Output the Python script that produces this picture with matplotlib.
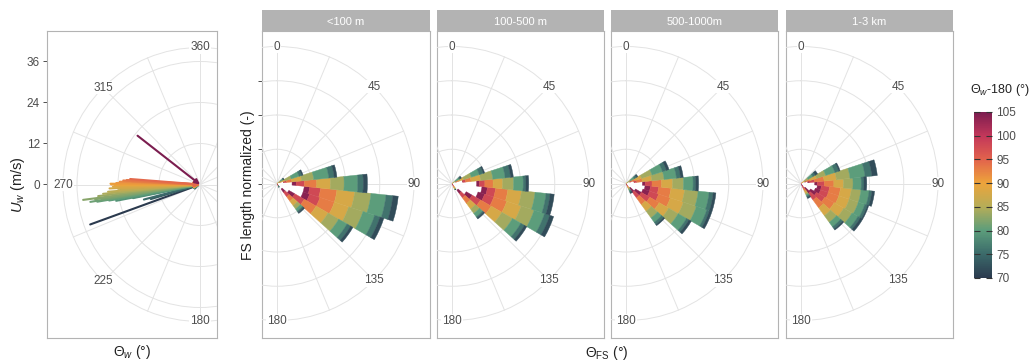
import numpy as np
import matplotlib
matplotlib.use('Agg')
import matplotlib.pyplot as plt
from matplotlib.colors import LinearSegmentedColormap, Normalize
from matplotlib.patches import Rectangle
from matplotlib.cm import ScalarMappable

plt.rcParams['font.family'] = ['Liberation Sans', 'DejaVu Sans']
plt.rcParams['mathtext.fontset'] = 'custom'
plt.rcParams['mathtext.rm'] = 'Liberation Sans'
plt.rcParams['mathtext.it'] = 'Liberation Sans:italic'
plt.rcParams['mathtext.bf'] = 'Liberation Sans:bold'

# --- wind vectors (left panel) ---
wind_dir = [250, 253.5, 255, 258.5, 259, 260, 260.5, 261, 261.5, 262, 262.5, 263.5, 264.5,
            265.5, 266, 267, 267.5, 268.5, 269.5, 270, 270.5, 271, 272, 272.5, 273, 273.5,
            274.5, 308]
wind_speed = [34.2, 15, 17, 20, 25, 27, 30.5, 32.5, 29, 31, 34.5, 30, 28.5,
              27, 24, 23, 26.5, 25.5, 25, 26, 26.2, 24.5, 23.5, 20, 22.5, 21.5,
              20.5, 23.2]

# --- FS roses: 12 deg bins, stacked by wind direction class ---
fs_bins = [54, 66, 78, 90, 102, 114, 126, 138, 150]
stack_vals = [104, 98, 93, 88, 84, 80, 76, 72]
panel_names = ['<100 m', '100-500 m', '500-1000m', '1-3 km']

hole_lt100 = [0, 0.02, 0.05, 0.11, 0.20, 0.20, 0.10, 0.05, 0]
seg_lt100 = [[0, 0, 0, 0.01, 0.02, 0.02, 0.005, 0.005],
             [0, 0, 0.01, 0.03, 0.05, 0.06, 0.02, 0.01],
             [0, 0.02, 0.04, 0.07, 0.09, 0.11, 0.04, 0.02],
             [0.03, 0.06, 0.09, 0.10, 0.10, 0.10, 0.04, 0.03],
             [0.04, 0.08, 0.12, 0.13, 0.12, 0.11, 0.05, 0.04],
             [0.05, 0.08, 0.11, 0.11, 0.11, 0.09, 0.04, 0.03],
             [0.05, 0.08, 0.10, 0.10, 0.09, 0.07, 0.03, 0.02],
             [0.03, 0.04, 0.04, 0.04, 0.03, 0.02, 0.01, 0.01],
             [0.01, 0.01, 0, 0, 0, 0, 0.01, 0]]

hole_100_500 = [0, 0.03, 0.08, 0.18, 0.22, 0.20, 0.12, 0.06, 0]
seg_100_500 = [[0, 0, 0, 0.01, 0.02, 0.03, 0.01, 0.01],
               [0, 0, 0.02, 0.04, 0.06, 0.06, 0.03, 0.01],
               [0, 0.02, 0.04, 0.07, 0.09, 0.09, 0.04, 0.02],
               [0.02, 0.04, 0.06, 0.07, 0.08, 0.07, 0.02, 0.02],
               [0.04, 0.06, 0.09, 0.10, 0.10, 0.08, 0.03, 0.03],
               [0.05, 0.07, 0.10, 0.11, 0.10, 0.08, 0.04, 0.03],
               [0.05, 0.07, 0.09, 0.09, 0.09, 0.07, 0.03, 0.02],
               [0.03, 0.04, 0.05, 0.05, 0.04, 0.03, 0.01, 0.01],
               [0.01, 0.01, 0.01, 0.01, 0.01, 0, 0, 0]]

hole_500_1000 = [0, 0.03, 0.06, 0.12, 0.14, 0.13, 0.08, 0.04, 0]
seg_500_1000 = [[0, 0, 0, 0.01, 0.03, 0.03, 0.02, 0.01],
                [0, 0.01, 0.03, 0.05, 0.08, 0.08, 0.03, 0.02],
                [0, 0.02, 0.04, 0.07, 0.09, 0.09, 0.03, 0.02],
                [0.02, 0.05, 0.07, 0.08, 0.08, 0.07, 0.02, 0.02],
                [0.04, 0.06, 0.09, 0.10, 0.10, 0.08, 0.03, 0.02],
                [0.05, 0.07, 0.09, 0.10, 0.10, 0.08, 0.02, 0.02],
                [0.05, 0.07, 0.08, 0.08, 0.08, 0.07, 0.02, 0.02],
                [0.04, 0.05, 0.06, 0.06, 0.06, 0.04, 0.02, 0.01],
                [0.01, 0.01, 0.01, 0.01, 0.01, 0.01, 0.01, 0.01]]

hole_1_3km = [0, 0.03, 0.05, 0.10, 0.12, 0.11, 0.08, 0.04, 0]
seg_1_3km = [[0, 0, 0.01, 0.02, 0.03, 0.04, 0.02, 0.02],
             [0, 0.01, 0.03, 0.05, 0.07, 0.07, 0.03, 0.01],
             [0.01, 0.04, 0.07, 0.09, 0.10, 0.11, 0.05, 0.04],
             [0.02, 0.05, 0.07, 0.07, 0.07, 0.06, 0.02, 0.02],
             [0.03, 0.06, 0.08, 0.08, 0.07, 0.06, 0.02, 0.02],
             [0.04, 0.06, 0.08, 0.08, 0.07, 0.05, 0.02, 0.01],
             [0.05, 0.07, 0.08, 0.08, 0.07, 0.05, 0.02, 0.02],
             [0.05, 0.06, 0.07, 0.07, 0.06, 0.04, 0.02, 0.01],
             [0.02, 0.02, 0.02, 0.02, 0.01, 0.01, 0.01, 0.01]]

holes = [hole_lt100, hole_100_500, hole_500_1000, hole_1_3km]
segs = [seg_lt100, seg_100_500, seg_500_1000, seg_1_3km]

# colours
cmap = LinearSegmentedColormap.from_list('wdir', [
    (0.0, '#2b3a4e'), (5/35, '#3b6a6a'), (10/35, '#5c9d7b'), (15/35, '#b5ad58'),
    (20/35, '#eda43b'), (25/35, '#e2634c'), (30/35, '#c3375a'), (1.0, '#7b1d4f')])
norm = Normalize(70, 105)

W, H = 1034, 362
GRID = '#e3e3e3'
TXT = '#4d4d4d'
LAB = '#222222'
fig = plt.figure(figsize=(W / 100, H / 100), dpi=100)


def fig_rect(x0, y0, x1, y1):
    return [x0 / W, 1 - y1 / H, (x1 - x0) / W, (y1 - y0) / H]


def make_frame(x0, x1):
    fa = fig.add_axes(fig_rect(x0, 31, x1, 338))
    fa.set_xticks([])
    for s in fa.spines.values():
        s.set_color('#b3b3b3')
        s.set_linewidth(0.8)
    return fa


def make_polar(cx, cy, R, rmax, x0, x1, rticks):
    pa = fig.add_axes(fig_rect(cx - R, cy - R, cx + R, cy + R), projection='polar')
    pa.set_facecolor('none')
    pa.set_theta_zero_location('N')
    pa.set_theta_direction(-1)
    pa.set_ylim(0, rmax)
    pa.set_xticks(np.deg2rad(np.arange(0, 360, 22.5)))
    pa.set_xticklabels([])
    pa.set_yticks(rticks)
    pa.set_yticklabels([])
    pa.tick_params(length=0)
    pa.grid(True, color=GRID, lw=0.7)
    pa.spines['polar'].set_color(GRID)
    pa.spines['polar'].set_linewidth(0.7)
    clip = Rectangle((x0 / W, 1 - 338 / H), (x1 - x0) / W, 307 / H,
                     transform=fig.transFigure)
    pa.xaxis.set_clip_path(clip)
    pa.yaxis.set_clip_path(clip)
    pa.spines['polar'].set_clip_path(clip)
    return pa


def theta_labels(pa, degs, r, texts):
    for d, t in zip(degs, texts):
        pa.text(np.deg2rad(d), r, t, ha='center', va='center', fontsize=8.5,
                color=TXT, zorder=10,
                bbox=dict(fc='white', ec='none', pad=0.6))


# ---------------- left panel: wind ----------------
PX_MS = 41 / 12.0
R = 137
cyL = 184.5
rmaxL = R / PX_MS
fl = make_frame(47, 217)
fl.set_ylim(-(338 - cyL) / PX_MS, (cyL - 31) / PX_MS)
fl.set_yticks([0, 12, 24, 36])
fl.tick_params(axis='y', length=3, color='#333333', width=0.6,
               labelsize=8.5, labelcolor=TXT, pad=2)
fig.text(18 / W, 1 - 185 / H, r'$U_w$ (m/s)', rotation=90, ha='center', va='center',
         fontsize=10.5, color=LAB)
fig.text(132 / W, 1 - 352 / H, r'$\Theta_w$ (°)', ha='center', va='center',
         fontsize=10, color=LAB)

pl = make_polar(200, cyL, R, rmaxL, 47, 217, [12, 24, 36])
theta_labels(pl, [180, 225, 270, 315, 360], rmaxL, ['180', '225', '270', '315', '360'])
for d, s in zip(wind_dir, wind_speed):
    c = cmap(norm(np.clip(d - 180, 70, 105)))
    pl.annotate('', xy=(np.deg2rad(d), 0), xytext=(np.deg2rad(d), s),
                arrowprops=dict(arrowstyle='-|>', color=c, lw=1.5, mutation_scale=7,
                                shrinkA=0, shrinkB=0))

# ---------------- right panels: FS roses ----------------
px0 = [262, 437, 611, 786]
px1 = [430, 604, 778, 953]
pcx = [277, 452, 626, 801]
cyR = 183.5
width = np.deg2rad(12)
for i in range(4):
    fr = make_frame(px0[i], px1[i])
    fr.set_ylim(-(338 - cyR) / R, (cyR - 31) / R)
    if i == 0:
        fr.set_yticks([0, 0.25, 0.5, 0.75])
        fr.set_yticklabels([])
        fr.tick_params(axis='y', length=3, color='#333333', width=0.6)
    else:
        fr.set_yticks([])
    st = fig.add_axes(fig_rect(px0[i], 10, px1[i], 31))
    st.set_facecolor('#b3b3b3')
    st.set_xticks([])
    st.set_yticks([])
    for s in st.spines.values():
        s.set_visible(False)
    st.text(0.5, 0.45, panel_names[i], ha='center', va='center', color='white',
            fontsize=8, transform=st.transAxes)

    pa = make_polar(pcx[i], cyR, R, 1.0, px0[i], px1[i], [0.25, 0.5, 0.75])
    th = np.deg2rad(fs_bins)
    bottom = np.array(holes[i], dtype=float)
    pa.bar(th, bottom, width=width, bottom=0, color='white', edgecolor='white',
           lw=0.3, zorder=3)
    seg = np.array(segs[i], dtype=float)
    for k, v in enumerate(stack_vals):
        col = cmap(norm(v))
        h = seg[:, k]
        pa.bar(th, h, width=width, bottom=bottom, color=col, edgecolor=col,
               lw=0.3, zorder=3)
        bottom = bottom + h
    theta_labels(pa, [0, 45, 90, 135, 180], 1.0, ['0', '45', '90', '135', '180'])

fig.text(248 / W, 1 - 185 / H, 'FS length normalized (-)', rotation=90, ha='center',
         va='center', fontsize=10, color=LAB)
fig.text(607 / W, 1 - 353 / H, r'$\Theta_{\mathrm{FS}}$ (°)', ha='center', va='center',
         fontsize=10, color=LAB)

# ---------------- colour bar ----------------
cax = fig.add_axes(fig_rect(974, 112, 992, 278))
cb = fig.colorbar(ScalarMappable(norm=norm, cmap=cmap), cax=cax,
                  ticks=np.arange(70, 106, 5))
cb.outline.set_visible(False)
cax.tick_params(labelsize=8.5, labelcolor=TXT, length=4, direction='in',
                color='#333333', width=0.8, left=True, right=True, pad=3)
fig.text(1000 / W, 1 - 90 / H, r'$\Theta_w$-180 (°)', ha='center', va='center',
         fontsize=9, color=LAB)

fig.savefig('out.png', dpi=100)
